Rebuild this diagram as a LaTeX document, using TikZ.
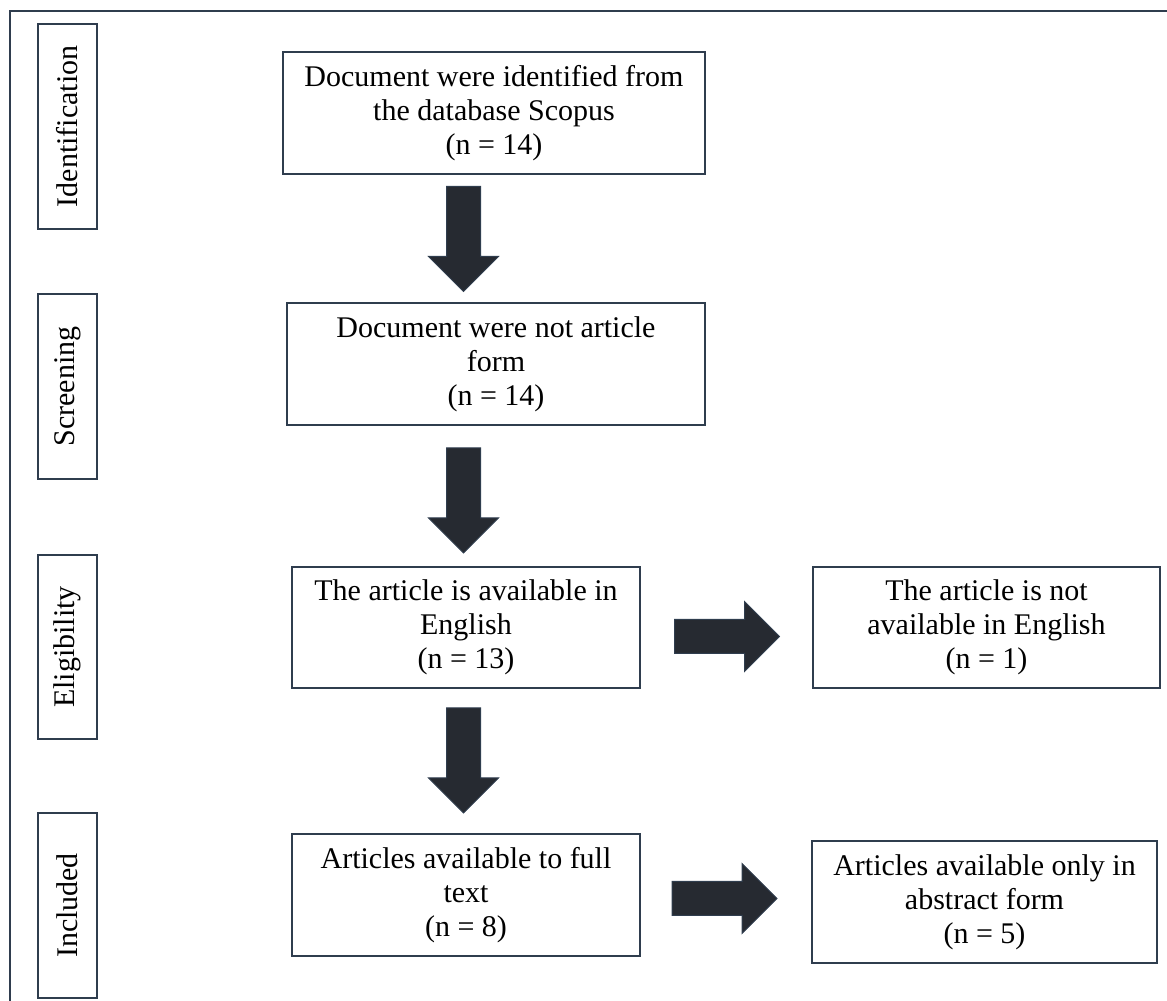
\documentclass[tikz,border=0pt]{standalone}
\usepackage{fontspec}
\setmainfont{Liberation Serif}
\usepackage{tikz}
\usetikzlibrary{shapes.arrows,calc}

\definecolor{boxline}{HTML}{2F3D4E}
\definecolor{arrowfill}{HTML}{262A31}

\begin{document}
\begin{tikzpicture}[x=1pt, y=1pt,
    txt/.style={font=\fontsize{30pt}{34pt}\selectfont},
    stagebox/.style={txt, draw=boxline, line width=1.5pt, rotate=90, inner sep=0pt,
      minimum width=#1, minimum height=59pt},
    flowbox/.style={txt, draw=boxline, line width=1.5pt, align=center, inner sep=0pt},
    blockarrow/.style={single arrow, fill=arrowfill, draw=boxline, line width=1pt,
      minimum height=105pt, single arrow head extend=18pt,
      inner xsep=0pt, inner ysep=16.5pt}]
    \useasboundingbox (0,0) rectangle (1167,1001);

    % Frame
    \draw[boxline, line width=1.8pt] (10,0) -- (10,990) -- (1167,990);

    % Stages
    \node[stagebox=205pt] (s1) at (67.5, 874.5) {Identification};
    \node[stagebox=185pt] (s2) at (67.5, 614.5) {Screening};
    \node[stagebox=184pt] (s3) at (67.5, 354) {Eligibility};
    \node[stagebox=185pt] (s4) at (67.5, 95.5) {Included};

    % Boxes
    \node[flowbox, minimum width=422pt, minimum height=122pt] (b1) at (494, 888)
      {Document were identified from\\the database Scopus\\(n = 14)};
    \node[flowbox, minimum width=418pt, minimum height=122pt] (b2) at (496, 637)
      {Document were not article\\form\\(n = 14)};
    \node[flowbox, minimum width=348pt, minimum height=121pt] (b3) at (466, 373.5)
      {The article is available in\\English\\(n = 13)};
    \node[flowbox, minimum width=348pt, minimum height=122pt] (b4) at (466, 106)
      {Articles available to full\\text\\(n = 8)};
    \node[flowbox, minimum width=347pt, minimum height=121pt] (r1) at (986.5, 373.5)
      {The article is not\\available in English\\(n = 1)};
    \node[flowbox, minimum width=345pt, minimum height=122pt] (r2) at (984.5, 99)
      {Articles available only in\\abstract form\\(n = 5)};

    % Arrows
    \node[blockarrow, xshift=-2.5pt, yshift=8pt, rotate=-90] (a1)
      at ($(b1.south -| b3.north)!.5!(b2.north -| b3.north)$) {};
    \node[blockarrow, xshift=-2.5pt, yshift=4pt, rotate=-90] (a2)
      at ($(b2.south -| b3.north)!.5!(b3.north)$) {};
    \node[blockarrow, xshift=-2.5pt, yshift=9pt, rotate=-90] (a3)
      at ($(b3.south)!.5!(b4.north)$) {};
    \node[blockarrow, xshift=-8pt, yshift=-9pt] (a4) at ($(b3.east)!.5!(r1.west)$) {};
    \node[blockarrow, xshift=-10pt] (a5) at ($(b4.east)!.5!(r2.west)$) {};
\end{tikzpicture}
\end{document}
